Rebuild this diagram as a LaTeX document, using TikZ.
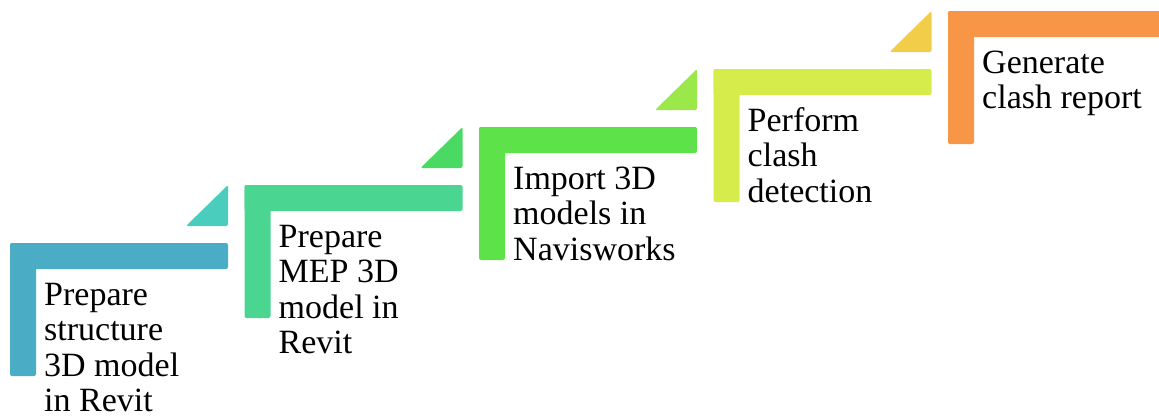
\documentclass[tikz,border=0pt]{standalone}
\usepackage{fontspec}
\setmainfont{Liberation Serif}
\usetikzlibrary{positioning}
\definecolor{barA}{HTML}{4BACC6}
\definecolor{barB}{HTML}{4AD591}
\definecolor{barC}{HTML}{5EE24A}
\definecolor{barD}{HTML}{D6EC4A}
\definecolor{barE}{HTML}{F79646}
\definecolor{triA}{HTML}{4ACDBC}
\definecolor{triB}{HTML}{4ADA64}
\definecolor{triC}{HTML}{9BE84A}
\definecolor{triD}{HTML}{F2CD4A}
\tikzset{
  stepbar/.style={rounded corners=2pt},
  steptxt/.style={anchor=base west, align=left, inner sep=0pt,
    font=\fontsize{34}{35.5}\selectfont}
}

\begin{document}
\begin{tikzpicture}[x=1pt,y=-1pt]
  \useasboundingbox (0,0) rectangle (1159,416);
  % L-shaped steps
  \foreach \i/\cb in {0/barA,1/barB,2/barC,3/barD,4/barE} {
    \pgfmathsetmacro\xl{10+234.5*\i}
    \pgfmathsetmacro\yt{243-58*\i}
    \fill[stepbar,\cb] (\xl,\yt) rectangle ++(218,26);
    \fill[stepbar,\cb] (\xl,\yt) rectangle ++(26,133);
  }
  % corner triangles
  \foreach \i/\ct in {0/triA,1/triB,2/triC,3/triD} {
    \pgfmathsetmacro\xr{228+234.5*\i}
    \pgfmathsetmacro\yt{243-58*\i}
    \fill[stepbar,\ct] (\xr,\yt-58) -- (\xr,\yt-17) -- (\xr-42,\yt-17) -- cycle;
  }
  % texts (anchored at the baseline of the last line)
  \node[steptxt] (p1) at (44,411.5) {Prepare\\structure\\3D model\\in Revit};
  \node[steptxt] (p2) at (278.5,353.5) {Prepare\\MEP 3D\\model in\\Revit};
  \node[steptxt] (p3) at (513,260) {Import 3D\\models in\\Navisworks};
  \node[steptxt] (p4) at (747.5,202) {Perform\\clash\\detection};
  \node[steptxt] (p5) at (982,108.5) {Generate\\clash report};
\end{tikzpicture}
\end{document}
